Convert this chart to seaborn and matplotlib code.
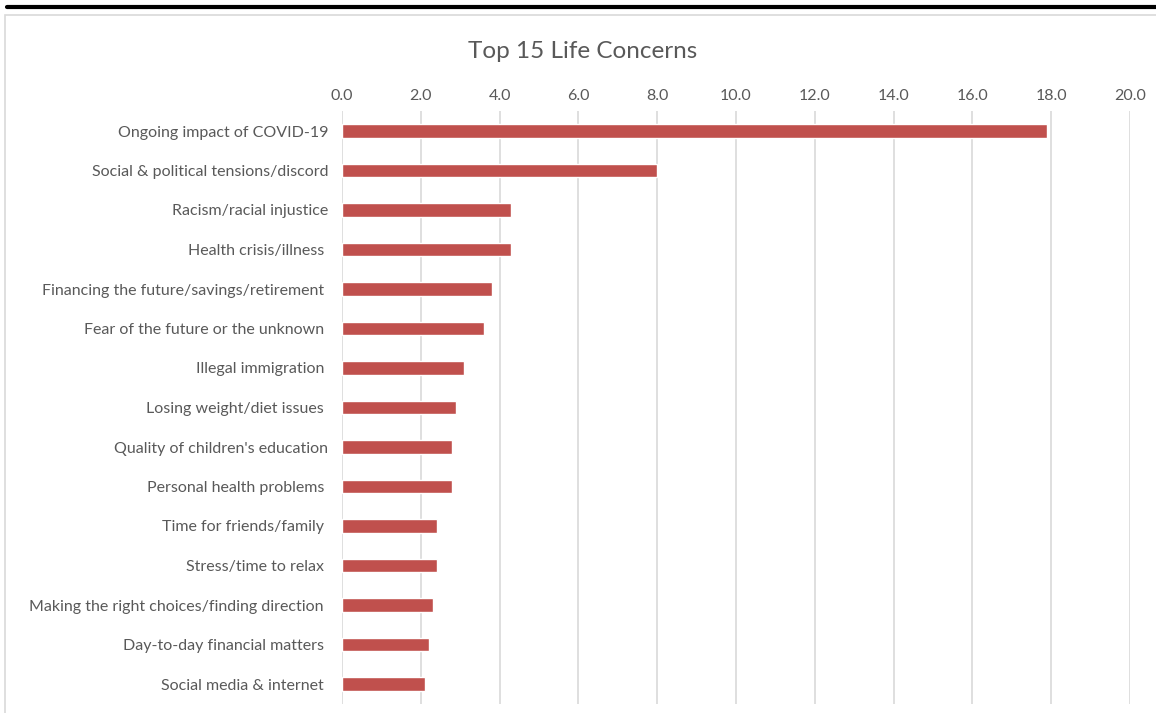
import matplotlib.pyplot as plt
import matplotlib.patches as patches
import matplotlib.lines as mlines
import seaborn as sns
import pandas as pd

# data
concerns = [
    "Ongoing impact of COVID-19",
    "Social & political tensions/discord",
    "Racism/racial injustice",
    "Health crisis/illness ",
    "Financing the future/savings/retirement ",
    "Fear of the future or the unknown ",
    "Illegal immigration ",
    "Losing weight/diet issues ",
    "Quality of children's education",
    "Personal health problems ",
    "Time for friends/family ",
    "Stress/time to relax ",
    "Making the right choices/finding direction ",
    "Day-to-day financial matters ",
    "Social media & internet ",
]
percent = [17.9, 8.0, 4.3, 4.3, 3.8, 3.6, 3.1, 2.9, 2.8, 2.8, 2.4, 2.4, 2.3, 2.2, 2.1]
x_ticks = [0, 2, 4, 6, 8, 10, 12, 14, 16, 18, 20]

df = pd.DataFrame({"concern": concerns, "percent": percent})

sns.set_theme(style="white")
plt.rcParams['font.family'] = ['Lato', 'DejaVu Sans']

fig = plt.figure(figsize=(11.56, 7.13), dpi=100)
ax = fig.add_axes([342 / 1156, 1 - 703.75 / 713, 788 / 1156, 592.5 / 713])

sns.barplot(data=df, x="percent", y="concern", orient="h", color="#C0504D",
            saturation=1, width=0.35, ax=ax)

ax.set_xlim(0, 20)
ax.set_xticks(x_ticks)
ax.set_xticklabels([f"{t:.1f}" for t in x_ticks])
ax.xaxis.tick_top()
ax.tick_params(axis="both", length=0, labelsize=11.5, labelcolor="#595959")
ax.tick_params(axis="x", pad=6)
ax.tick_params(axis="y", pad=10)
ax.set_xlabel("")
ax.set_ylabel("")
ax.grid(True, axis="x", color="#D9D9D9", linewidth=1.2)
ax.set_axisbelow(True)
for s in ax.spines.values():
    s.set_visible(False)

fig.text(583 / 1156, 1 - 51 / 713, "Top 15 Life Concerns", ha="center", va="center",
         fontsize=17.5, color="#595959")

# chart frame and the black rule above it
fig.patches.append(patches.Rectangle((5 / 1156, -0.1), 1.2, 1 - 15 / 713 + 0.1,
                                     transform=fig.transFigure, fill=False,
                                     edgecolor="#D9D9D9", linewidth=1.2))
fig.lines.append(mlines.Line2D([7 / 1156, 1], [1 - 6.5 / 713, 1 - 6.5 / 713],
                               transform=fig.transFigure, color="black", linewidth=3))

plt.savefig("out.png", dpi=100)
